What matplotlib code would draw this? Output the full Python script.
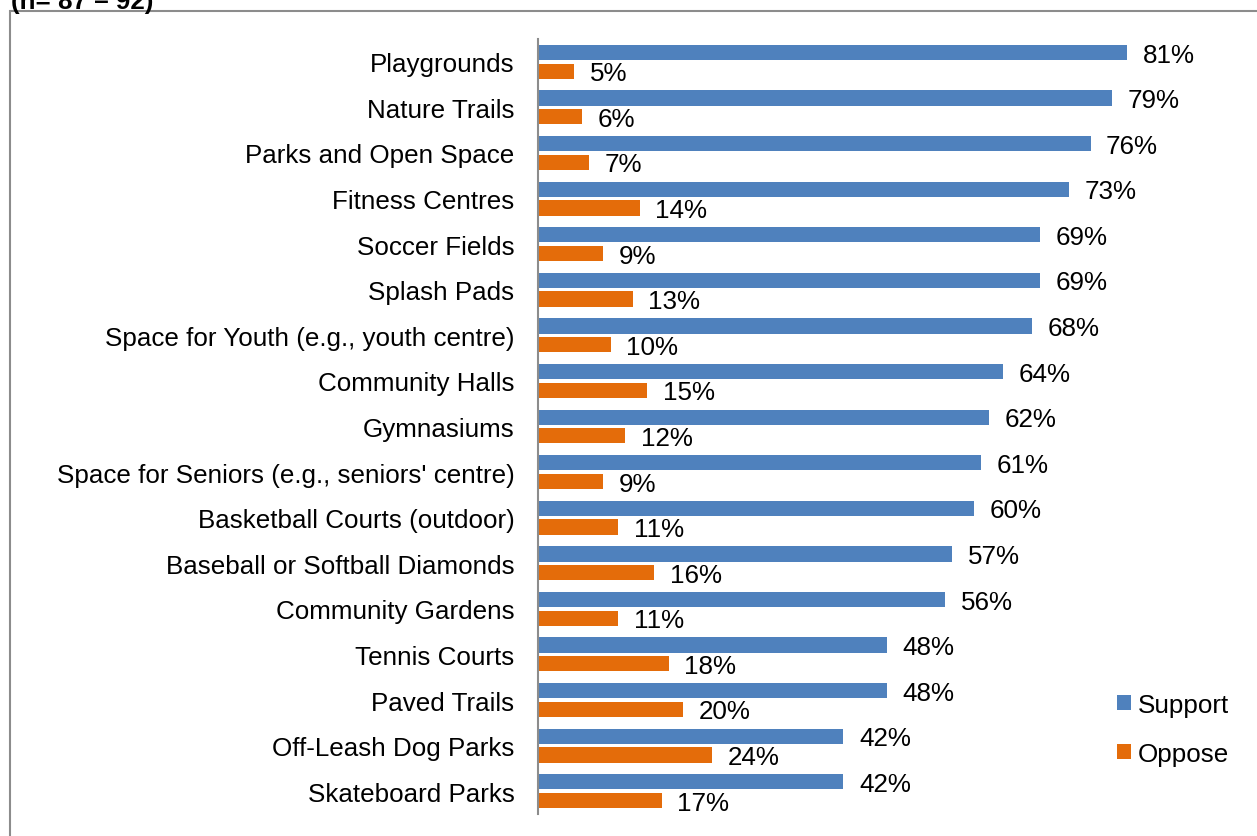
import matplotlib
matplotlib.use("Agg")
import matplotlib.pyplot as plt
from matplotlib.patches import Rectangle
import numpy as np

plt.rcParams['font.family'] = ['Liberation Sans', 'DejaVu Sans']

categories = [
    "Playgrounds", "Nature Trails", "Parks and Open Space", "Fitness Centres",
    "Soccer Fields", "Splash Pads", "Space for Youth (e.g., youth centre)",
    "Community Halls", "Gymnasiums", "Space for Seniors (e.g., seniors' centre)",
    "Basketball Courts (outdoor)", "Baseball or Softball Diamonds",
    "Community Gardens", "Tennis Courts", "Paved Trails",
    "Off-Leash Dog Parks", "Skateboard Parks",
]
support = [81, 79, 76, 73, 69, 69, 68, 64, 62, 61, 60, 57, 56, 48, 48, 42, 42]
oppose = [5, 6, 7, 14, 9, 13, 10, 15, 12, 9, 11, 16, 11, 18, 20, 24, 17]
series_names = ["Support", "Oppose"]
sample_note = "(n= 87 \u2013 92)"

BLUE = "#4F81BD"
ORANGE = "#E46C0A"
GREY = "#8C8C8C"
FS = 18.7

W, H = 1257, 837
fig = plt.figure(figsize=(W / 100, H / 100), dpi=100)

# outer chart frame (runs off the right and bottom edges)
fig.patches.append(Rectangle((10 / W, -0.1), 1.2, 1.1 - 12 / H,
                             transform=fig.transFigure, fill=False,
                             edgecolor=GREY, linewidth=1.5, zorder=0))
fig.text(11 / W, 1 - 9 / H, sample_note, fontsize=FS, fontweight='bold',
         ha='left', va='baseline')

left, right = 538, 538 + 90 * 7.27
top, bottom = 40, 815
ax = fig.add_axes([left / W, 1 - bottom / H, (right - left) / W, (bottom - top) / H])

y = np.arange(len(categories))
off, h = 0.205, 0.335
b1 = ax.barh(y - off, support, height=h, color=BLUE, label=series_names[0])
b2 = ax.barh(y + off, oppose, height=h, color=ORANGE, label=series_names[1])

for bars, vals in ((b1, support), (b2, oppose)):
    for bar, v in zip(bars, vals):
        ax.annotate(f"{v}%", (v, bar.get_y() + bar.get_height() / 2),
                    xytext=(11.2, -1.5), textcoords='offset points',
                    ha='left', va='center', fontsize=FS, annotation_clip=False)

ax.set_xlim(0, 90)
ax.set_ylim(len(categories) - 0.5, -0.5)
ax.set_yticks(y)
ax.set_yticklabels(categories, fontsize=FS)
ax.tick_params(axis='y', length=0, pad=17)
ax.set_xticks([])
for s in ('top', 'right', 'bottom'):
    ax.spines[s].set_visible(False)
ax.spines['left'].set_color(GREY)
ax.spines['left'].set_linewidth(1.5)

fig.legend(handles=[b1, b2], labels=series_names, loc='upper left',
           bbox_to_anchor=(1117 / W, 1 - 694 / H), frameon=False,
           fontsize=FS, handlelength=0.54, handleheight=0.52,
           handletextpad=0.26, labelspacing=0.95, borderpad=0,
           borderaxespad=0)

fig.savefig("out.png", dpi=100)
